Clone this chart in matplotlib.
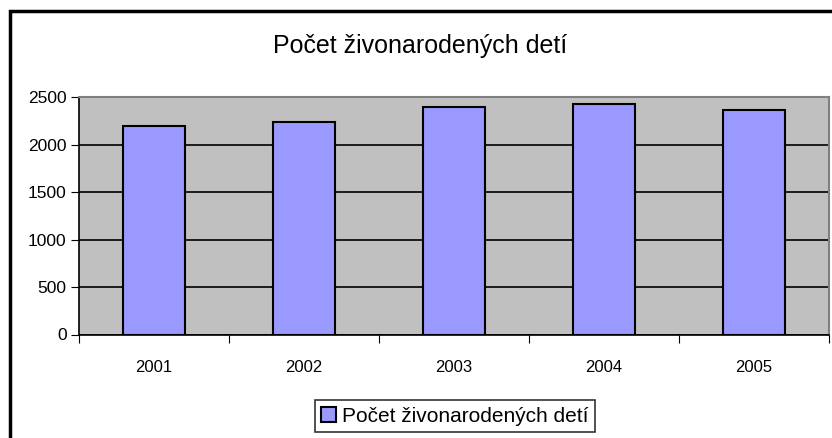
import matplotlib
matplotlib.use("Agg")
import matplotlib.pyplot as plt
from matplotlib.patches import Rectangle
import numpy as np

plt.rcParams['font.family'] = ['Liberation Sans', 'DejaVu Sans']

years = ["2001", "2002", "2003", "2004", "2005"]
values = [2200, 2233, 2395, 2430, 2360]
series_name = "Počet živonarodených detí"
title = "Počet živonarodených detí"
yticks = [0, 500, 1000, 1500, 2000, 2500]

W, H = 832, 438
fig = plt.figure(figsize=(W / 100, H / 100), dpi=100)
ax = fig.add_axes([79 / W, 1 - 334.5 / H, (829 - 79) / W, (334.5 - 97) / H])
ax.set_facecolor("#C0C0C0")

x = np.arange(len(years))
ax.bar(x, values, width=0.41, color="#9999FF", edgecolor="black", linewidth=1.5,
       label=series_name, zorder=3)

ax.set_xlim(-0.5, len(years) - 0.5)
ax.set_ylim(0, 2500)
ax.set_yticks(yticks)
ax.set_yticklabels([str(v) for v in yticks], fontsize=12.5)
ax.yaxis.grid(True, color="black", linewidth=1.2, zorder=1)
ax.set_axisbelow(True)

ax.set_xticks(np.arange(-0.5, len(years), 1.0))
ax.set_xticklabels([])
ax.set_xticks(x, minor=True)
ax.set_xticklabels(years, minor=True, fontsize=12)
ax.tick_params(axis="x", which="major", direction="out", length=6, color="black")
ax.tick_params(axis="x", which="minor", length=0, pad=18)
ax.tick_params(axis="y", direction="out", length=6, color="black", pad=3)

for s in ["top", "right"]:
    ax.spines[s].set_color("#808080")
    ax.spines[s].set_linewidth(1.5)
for s in ["left", "bottom"]:
    ax.spines[s].set_color("black")
    ax.spines[s].set_linewidth(1.2)

fig.text(420 / W, 1 - 46 / H, title, ha="center", va="center", fontsize=18)

leg = fig.legend(loc="center", bbox_to_anchor=(455 / W, 1 - 416 / H), fontsize=15,
                 frameon=True, fancybox=False, edgecolor="black", handlelength=0.7,
                 handleheight=0.7, handletextpad=0.3, borderpad=0.3, borderaxespad=0)
leg.get_frame().set_linewidth(1.2)

fig.patches.append(Rectangle((10 / W, -0.1), 1.2, 1.1 - 11 / H, transform=fig.transFigure,
                             fill=False, edgecolor="black", linewidth=2.5))

fig.savefig("out.png", dpi=100)
